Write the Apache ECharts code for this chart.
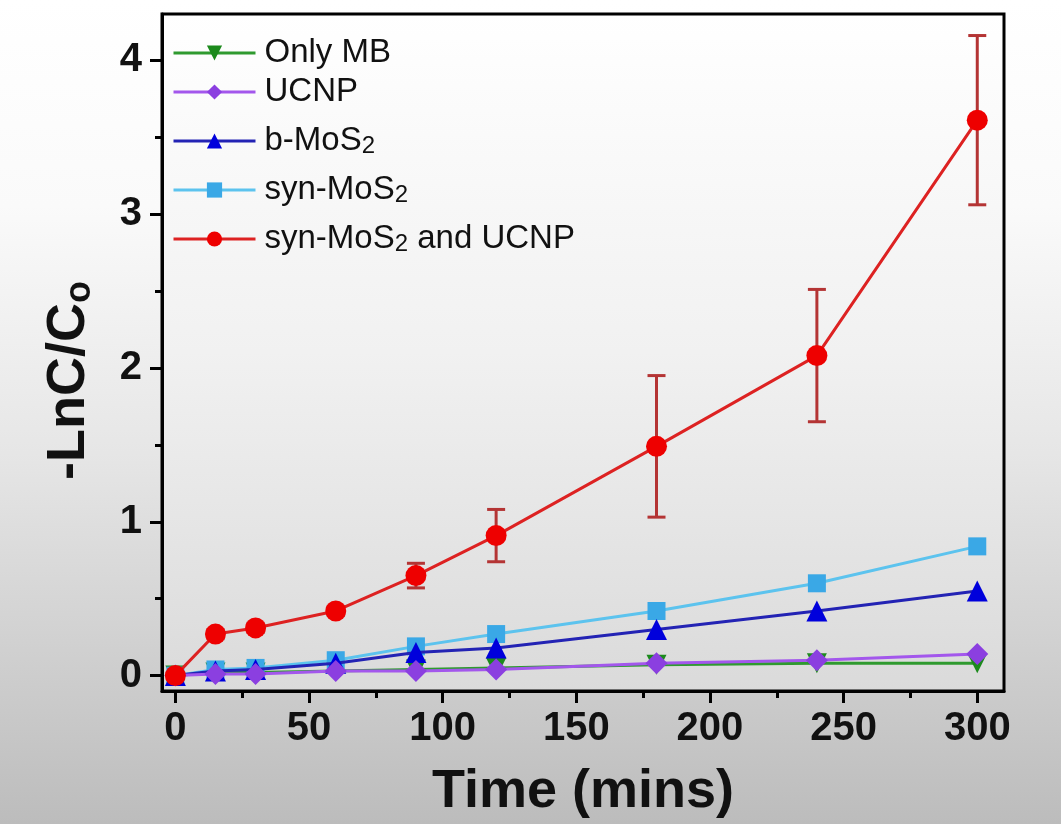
<!DOCTYPE html>
<html>
<head>
<meta charset="utf-8">
<script src="https://cdn.jsdelivr.net/npm/echarts@6/dist/echarts.min.js"></script>
<style>
  html, body { margin: 0; padding: 0; }
  #chart { width: 1061px; height: 824px;
    background: linear-gradient(to bottom, #ffffff 0%, #fafafa 25%, #e6e6e6 55%, #cfcfcf 80%, #bcbcbc 100%); }
</style>
</head>
<body>
<div id="chart"></div>
<script>
// ---- data ----
const times = [0, 15, 30, 60, 90, 120, 180, 240, 300];
const onlyMB = [0, 0.02, 0.02, 0.03, 0.04, 0.05, 0.07, 0.08, 0.08];
const ucnp = [0, 0.01, 0.01, 0.03, 0.03, 0.04, 0.08, 0.10, 0.14];
const bMoS2 = [0, 0.03, 0.04, 0.08, 0.15, 0.18, 0.30, 0.42, 0.55];
const synMoS2 = [0, 0.04, 0.05, 0.10, 0.19, 0.27, 0.42, 0.60, 0.84];
const synUCNP = [0, 0.27, 0.31, 0.42, 0.65, 0.91, 1.49, 2.08, 3.61];
const synUCNPErr = [0, 0.03, 0.03, 0.03, 0.08, 0.17, 0.46, 0.43, 0.55];
const xMajorTicks = [0, 50, 100, 150, 200, 250, 300];
const xMinorTicks = [25, 75, 125, 175, 225, 275];
const yMajorTicks = [0, 1, 2, 3, 4];
const yMinorTicks = [0.5, 1.5, 2.5, 3.5];
const seriesNames = ['Only MB', 'UCNP', 'b-MoS2', 'syn-MoS2', 'syn-MoS2 and UCNP'];

const FONT = '"Liberation Sans", Arial, sans-serif';
const pair = arr => times.map((t, i) => [t, arr[i]]);

function lineSeries(name, data, lineColor, markColor, symbol, size, z, rotate) {
  return {
    name: name, type: 'line', data: pair(data), z: z,
    symbol: symbol, symbolSize: size, symbolRotate: rotate || 0,
    lineStyle: { color: lineColor, width: 3 },
    itemStyle: { color: markColor, borderWidth: 0 },
    emphasis: { disabled: true }, animation: false
  };
}

const chart = echarts.init(document.getElementById('chart'), null, { renderer: 'canvas' });

const axisLineStyle = { show: true, onZero: false, lineStyle: { color: '#000', width: 3 } };

const option = {
  backgroundColor: 'transparent',
  animation: false,
  grid: {
    left: 162, right: 57, top: 14, bottom: 132,
    show: true, borderColor: '#000', borderWidth: 3,
    backgroundColor: new echarts.graphic.LinearGradient(0, 0, 0, 1, [
      { offset: 0, color: '#ffffff' }, { offset: 0.5, color: '#f1f1f1' }, { offset: 1, color: '#dadada' }
    ])
  },
  legend: {
    data: seriesNames,
    orient: 'vertical', left: 172, top: 36, padding: 0,
    itemWidth: 82, itemHeight: 19, itemGap: 5,
    lineStyle: { width: 3 },
    textStyle: {
      fontFamily: FONT, fontSize: 33, color: '#111', lineHeight: 34, padding: [0, 0, 0, 4],
      rich: {
        s: { fontFamily: FONT, fontSize: 24, color: '#111', lineHeight: 24, padding: [20, 0, 0, 0], verticalAlign: 'bottom' }
      }
    },
    formatter: function (n) { return n.replace(/MoS2/g, 'MoS{s|2}'); }
  },
  xAxis: [{
    type: 'value', min: -5, max: 310, position: 'bottom',
    axisLine: axisLineStyle,
    axisTick: { show: true, inside: false, length: 12, lineStyle: { color: '#000', width: 3 }, customValues: xMajorTicks },
    axisLabel: { customValues: xMajorTicks, margin: 18, fontFamily: FONT, fontSize: 40, fontWeight: 'bold', color: '#111' },
    splitLine: { show: false },
    name: 'Time (mins)', nameLocation: 'middle', nameGap: 74,
    nameTextStyle: { fontFamily: FONT, fontSize: 54, fontWeight: 'bold', color: '#111' }
  }, {
    type: 'value', min: -5, max: 310, position: 'bottom',
    axisLine: { show: false, onZero: false },
    axisTick: { show: true, inside: false, length: 7, lineStyle: { color: '#000', width: 3 }, customValues: xMinorTicks },
    axisLabel: { show: false }, splitLine: { show: false }
  }],
  yAxis: [{
    type: 'value', min: -0.1, max: 4.3, position: 'left',
    axisLine: axisLineStyle,
    axisTick: { show: true, inside: false, length: 12, lineStyle: { color: '#000', width: 3 }, customValues: yMajorTicks },
    axisLabel: { customValues: yMajorTicks, margin: 20, fontFamily: FONT, fontSize: 40, fontWeight: 'bold', color: '#111' },
    splitLine: { show: false },
    name: '-LnC/C{s|o}', nameLocation: 'middle', nameGap: 64, nameRotate: 90,
    nameTextStyle: {
      fontFamily: FONT, fontSize: 54, fontWeight: 'bold', color: '#111', padding: [0, 56, 0, 0],
      rich: { s: { fontFamily: FONT, fontSize: 36, fontWeight: 'bold', color: '#111', padding: [22, 0, 0, 0], verticalAlign: 'bottom' } }
    }
  }, {
    type: 'value', min: -0.1, max: 4.3, position: 'left',
    axisLine: { show: false, onZero: false },
    axisTick: { show: true, inside: false, length: 7, lineStyle: { color: '#000', width: 3 }, customValues: yMinorTicks },
    axisLabel: { show: false }, splitLine: { show: false }
  }],
  series: [
    lineSeries('Only MB', onlyMB, '#2f9a2f', '#1c8a1c', 'triangle', 20, 2, 180),
    lineSeries('syn-MoS2', synMoS2, '#5cc3ee', '#3aa8e6', 'rect', 18, 3),
    lineSeries('b-MoS2', bMoS2, '#2323b4', '#0000dc', 'triangle', 21, 4),
    lineSeries('UCNP', ucnp, '#a357ec', '#8b3fe0', 'diamond', 22, 5),
    {
      name: 'err', type: 'custom', z: 6, animation: false, silent: true,
      data: times.map((t, i) => [t, synUCNP[i], synUCNPErr[i]]),
      renderItem: function (params, api) {
        const x = api.value(0), y = api.value(1), e = api.value(2);
        if (!e) return null;
        const top = api.coord([x, y + e]);
        const bot = api.coord([x, y - e]);
        const w = 9;
        const st = { stroke: '#b43434', lineWidth: 3 };
        return {
          type: 'group',
          children: [
            { type: 'line', shape: { x1: top[0], y1: top[1], x2: bot[0], y2: bot[1] }, style: st },
            { type: 'line', shape: { x1: top[0] - w, y1: top[1], x2: top[0] + w, y2: top[1] }, style: st },
            { type: 'line', shape: { x1: bot[0] - w, y1: bot[1], x2: bot[0] + w, y2: bot[1] }, style: st }
          ]
        };
      }
    },
    lineSeries('syn-MoS2 and UCNP', synUCNP, '#dd2222', '#ee0000', 'circle', 21, 7)
  ]
};
chart.setOption(option);
</script>
</body>
</html>
